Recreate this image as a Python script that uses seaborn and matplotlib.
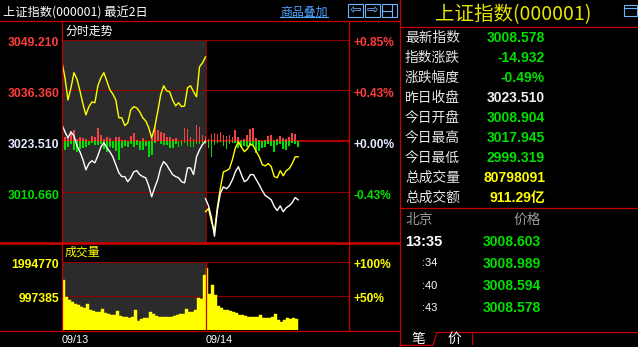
import matplotlib
matplotlib.use("Agg")
import matplotlib.pyplot as plt
import matplotlib.transforms as mtransforms
from matplotlib.patches import Rectangle
import pandas as pd
import seaborn as sns

# ---------------- data ----------------
prev_close = 3023.51
price_ticks = [3049.21, 3036.36, 3023.51, 3010.66]
price_tick_labels = ["3049.210", "3036.360", "3023.510", "3010.660"]
pct_tick_labels = ["+0.85%", "+0.43%", "+0.00%", "-0.43%"]
vol_ticks = [1994770, 997385]
vol_tick_labels = ["1994770", "997385"]
vol_pct_labels = ["+100%", "+50%"]
date_labels = ["09/13", "09/14"]
date_minutes = [0, 240]

day1_min = list(range(0, 241, 5))
day2_min = list(range(240, 396, 5))

white1 = [3027.6, 3025.8, 3024.3, 3025.8, 3024.8, 3022.3, 3020.8, 3018.8, 3016.2, 3017.8,
          3018.5, 3018.0, 3019.8, 3022.0, 3023.1, 3021.8, 3020.8, 3019.5, 3017.5, 3015.5,
          3014.5, 3014.5, 3013.2, 3014.2, 3015.7, 3016.0, 3015.0, 3014.5, 3014.2, 3012.2,
          3009.4, 3011.7, 3013.7, 3016.7, 3018.3, 3017.5, 3016.2, 3015.0, 3014.5, 3014.2,
          3013.2, 3012.9, 3016.7, 3016.7, 3015.0, 3019.5, 3021.3, 3022.6, 3023.5]
yellow1 = [3043.5, 3039.5, 3033.9, 3037.0, 3040.8, 3039.2, 3036.2, 3032.9, 3030.1, 3032.2,
           3033.4, 3033.2, 3037.5, 3039.5, 3040.8, 3038.7, 3036.5, 3035.4, 3033.9, 3029.4,
           3029.4, 3027.4, 3028.1, 3031.4, 3032.2, 3031.9, 3030.9, 3029.4, 3028.6, 3026.9,
           3024.3, 3026.9, 3030.9, 3035.2, 3037.5, 3036.2, 3036.0, 3033.9, 3032.4, 3033.2,
           3032.2, 3032.4, 3037.0, 3037.5, 3036.0, 3034.7, 3042.3, 3043.3, 3044.8]
white2 = [3008.9, 3007.1, 3004.1, 2999.4, 3006.1, 3010.4, 3011.9, 3011.4, 3012.2, 3013.7,
          3015.7, 3017.0, 3015.0, 3013.2, 3013.7, 3015.0, 3015.0, 3013.7, 3012.4, 3010.9,
          3009.7, 3009.2, 3008.6, 3006.9, 3005.9, 3007.1, 3005.6, 3006.6, 3007.1, 3007.9,
          3009.2, 3008.6]
yellow2 = [3005.6, 3006.4, 3003.1, 3000.6, 3006.9, 3011.7, 3015.7, 3016.0, 3016.5, 3018.8,
           3021.8, 3023.3, 3022.0, 3020.8, 3021.5, 3022.8, 3022.3, 3020.8, 3019.5, 3017.5,
           3017.2, 3017.8, 3017.0, 3014.5, 3014.2, 3016.0, 3014.7, 3016.0, 3016.5, 3017.8,
           3019.5, 3019.5]

# buy/sell force bars (index points relative to previous close)
up1 = [0.8, 1.0, 1.0, 2.5, 2.8, 0.5, 1.0, 0.8, 0.5, 0.0, 1.3, 1.0, 3.3, 1.5, 0.5, 1.0, 0.8,
       0.0, 1.0, 1.0, 0.3, 0.3, 0.0, 1.3, 2.0, 0.3, 0.0, 0.8, 0.0, 0.0, 0.8, 3.5, 2.8, 2.3,
       2.0, 1.0, 1.0, 0.5, 0.8, 0.0, 0.3, 3.3, 3.0, 1.0, 0.5, 4.0, 3.5, 1.5, 0.8]
down1 = [-1.3, -2.3, -1.5, -0.8, -2.3, -2.8, -2.0, -1.8, -1.5, -1.0, -0.5, -1.0, -1.0, -0.8,
         -2.0, -2.8, -1.5, -1.8, -2.5, -4.8, -1.8, -1.3, -1.5, -0.8, -1.5, -1.0, -2.3, -2.3,
         -1.3, -4.0, -3.5, -0.5, 0.0, -0.8, -1.0, -1.0, -1.8, -1.8, -0.8, -1.5, -1.3, -0.5,
         -1.3, -1.5, -1.5, -0.8, -0.8, -0.5, -0.8]
up2 = [1.3, 0.5, 1.8, 2.0, 1.8, 2.3, 1.5, 1.3, 1.5, 1.0, 2.8, 1.0, 0.3, 0.5, 1.5, 3.0, 3.3,
       0.8, 0.3, 0.0, 0.3, 1.3, 1.5, 0.3, 0.5, 1.3, 0.8, 0.5, 1.0, 2.0, 1.8, 0.0]
down2 = [-0.8, -1.8, -4.0, -1.0, -0.5, -0.3, -1.3, -2.0, -0.8, -0.5, -0.5, -1.8, -1.5, -1.3,
         -1.5, -1.3, -1.0, -3.0, -2.5, -1.8, -1.5, -0.8, -1.3, -2.8, -1.0, -0.8, -2.0, -2.3,
         -1.3, -0.5, -0.8, -1.5]

vol_min = [2.5 + 5 * k for k in range(48)] + [242.5 + 5 * k for k in range(31)]
volume = [1460000, 964000, 876000, 818000, 759000, 730000, 672000, 643000, 759000, 584000,
          555000, 526000, 526000, 613000, 497000, 467000, 438000, 438000, 555000, 409000,
          380000, 380000, 351000, 380000, 584000, 263000, 321000, 351000, 351000, 526000,
          467000, 409000, 380000, 380000, 380000, 380000, 380000, 409000, 438000, 467000,
          467000, 613000, 526000, 526000, 584000, 935000, 905000, 1606000,
          1811000, 1051000, 1314000, 1022000, 701000, 643000, 584000, 584000, 555000, 526000,
          497000, 438000, 438000, 409000, 380000, 380000, 380000, 380000, 438000, 350000,
          350000, 350000, 380000, 467000, 292000, 234000, 292000, 350000, 321000, 350000,
          321000]

info_labels = ["最新指数", "指数涨跌", "涨跌幅度", "昨日收盘", "今日开盘", "今日最高",
               "今日最低", "总成交量", "总成交额"]
info_values = ["3008.578", "-14.932", "-0.49%", "3023.510", "3008.904", "3017.945",
               "2999.319", "80798091", "911.29亿"]
trade_times = ["13:35", ":34", ":40", ":43"]
trade_prices = ["3008.603", "3008.989", "3008.594", "3008.578"]

# ---------------- style ----------------
W, H = 638, 347
RED = "#ff3c3c"
GREEN = "#00e000"
YEL = "#ffff00"
FRAME = "#c80000"
GRID = "#8c0000"
GRAY = "#2b2b2b"
CJK = ["Noto Sans CJK SC", "DejaVu Sans"]
NUM = ["Liberation Sans", "Noto Sans CJK SC", "DejaVu Sans"]
info_colors = [GREEN, GREEN, GREEN, "#f0f0f0", GREEN, GREEN, GREEN, YEL, YEL]


def rect(x0, y0, x1, y1):
    return [x0 / W, 1 - y1 / H, (x1 - x0) / W, (y1 - y0) / H]


fig = plt.figure(figsize=(W / 100, H / 100), dpi=100, facecolor="black")

# ---------------- price panel ----------------
axp = fig.add_axes(rect(62, 39.5, 349, 242.5))
axp.set_facecolor("black")
axp.axvspan(0, 240, color=GRAY, zorder=0, lw=0)
for t in price_ticks:
    if t == prev_close:
        axp.axhline(t, color="#a80000", lw=1.6, zorder=1)
    else:
        axp.axhline(t, color=GRID, lw=0.8, zorder=1, clip_on=False)
axp.axvline(240, color=GRID, lw=0.8, zorder=1)

for xs, ys, c in [(day1_min, up1, "#f04444"), (day1_min, down1, "#00e000"),
                  (day2_min, up2, "#f04444"), (day2_min, down2, "#00e000")]:
    sns.barplot(x=xs, y=ys, native_scale=True, orient="x", color=c, saturation=1,
                width=0.6, errorbar=None, bottom=prev_close, linewidth=0,
                zorder=2, ax=axp)

for xs, ys, c in [(day1_min, yellow1, YEL), (day1_min, white1, "white"),
                  (day2_min, yellow2, YEL), (day2_min, white2, "white")]:
    sns.lineplot(x=xs, y=ys, color=c, linewidth=1.0, zorder=3, ax=axp)

axp.set_xlim(0, 480)
axp.set_ylim(2997.81, 3049.21)
axp.set_xticks([])
axp.set_xlabel("")
axp.set_ylabel("")
axp.set_yticks(price_ticks)
axp.set_yticklabels(price_tick_labels, fontsize=8.8, fontweight="bold", family=NUM)
axp.tick_params(axis="y", length=0, pad=2)
for s in axp.spines.values():
    s.set_visible(False)

axr = axp.twinx()
axr.set_ylim(axp.get_ylim())
axr.set_yticks(price_ticks)
axr.set_yticklabels(pct_tick_labels, fontsize=8.6, fontweight="bold", family=NUM)
axr.tick_params(axis="y", length=0, pad=3)
for s in axr.spines.values():
    s.set_visible(False)

label_cols = [RED, RED, "#e2eaff", GREEN]
off = mtransforms.ScaledTranslation(0, -0.025, fig.dpi_scale_trans)
for ax in (axp, axr):
    for lab, col in zip(ax.get_yticklabels(), label_cols):
        lab.set_color(col)
        lab.set_transform(lab.get_transform() + off)

# ---------------- volume panel ----------------
axv = fig.add_axes(rect(62, 261.7, 349, 330))
axv.set_facecolor("black")
axv.axvspan(0, 240, color=GRAY, zorder=0, lw=0)
sns.barplot(x=vol_min, y=volume, native_scale=True, orient="x", color=YEL, saturation=1,
            width=1.0, errorbar=None, linewidth=0.3, edgecolor=YEL, zorder=2, ax=axv)
for t in vol_ticks:
    axv.axhline(t, color=GRID, lw=0.8, zorder=1, clip_on=False)
axv.axvline(240, color="#c00000", lw=0.9, zorder=3)
axv.set_xlim(0, 480)
axv.set_ylim(0, 1994770)
axv.set_xlabel("")
axv.set_ylabel("")
axv.set_yticks(vol_ticks)
axv.set_yticklabels(vol_tick_labels, fontsize=8.8, fontweight="bold", family=NUM, color=YEL)
axv.set_xticks(date_minutes)
axv.set_xticklabels(date_labels, fontsize=7.8, family=NUM, color="white", ha="left")
axv.tick_params(axis="both", length=0)
axv.tick_params(axis="y", pad=2)
axv.tick_params(axis="x", pad=3.5)
for s in axv.spines.values():
    s.set_visible(False)

axv2 = axv.twinx()
axv2.set_ylim(axv.get_ylim())
axv2.set_yticks(vol_ticks)
axv2.set_yticklabels(vol_pct_labels, fontsize=8.6, fontweight="bold", family=NUM, color=YEL)
axv2.tick_params(axis="y", length=0, pad=3)
for s in axv2.spines.values():
    s.set_visible(False)
off2 = mtransforms.ScaledTranslation(0, -0.02, fig.dpi_scale_trans)
for ax in (axv, axv2):
    for lab in ax.get_yticklabels():
        lab.set_transform(lab.get_transform() + off2)

# ---------------- overlay: frames and texts ----------------
ov = fig.add_axes([0, 0, 1, 1], facecolor="none")
ov.set_xlim(0, W)
ov.set_ylim(H, 0)
ov.axis("off")
ov.set_zorder(10)

lw1 = 0.9
ov.plot([0, 399], [20.5, 20.5], color=FRAME, lw=lw1)
ov.plot([62, 62], [20.5, 330.5], color=FRAME, lw=lw1)
ov.plot([349, 349], [20.5, 330.5], color=FRAME, lw=lw1)
ov.plot([0, 399], [242.8, 242.8], color="#d00000", lw=1.8)
ov.plot([0, 399], [330.5, 330.5], color=FRAME, lw=lw1)
ov.plot([399.5, 399.5], [0, H], color=FRAME, lw=lw1)
ov.plot([400, W], [26.8, 26.8], color=FRAME, lw=lw1)
ov.plot([400, W], [208.3, 208.3], color=FRAME, lw=lw1)
ov.plot([400, 433, 437, W], [345.3, 345.3, 332.5, 332.5], color=FRAME, lw=lw1)
ov.plot([472, 472], [333, 344], color=FRAME, lw=lw1)

# title bar
ov.text(3, 12.5, "上证指数(000001) 最近2日", color="white", fontsize=8.8, va="center",
        family=CJK)
ov.text(280, 12, "商品叠加", color="#4aa6ff", fontsize=8.6, va="center", family=CJK)
ov.plot([280, 328], [17.3, 17.3], color="#4aa6ff", lw=0.8)
ICON = "#6ab4ff"
for x0, sym in [(348, "⇦"), (365, "⇨")]:
    ov.add_patch(Rectangle((x0, 4), 15, 13, fill=False, ec=ICON, lw=0.8))
    ov.text(x0 + 7.5, 10.5, sym, ha="center", va="center", color=ICON, fontsize=10,
            family="DejaVu Sans")
ov.add_patch(Rectangle((382, 4), 15, 13, fill=False, ec=ICON, lw=0.8))
ov.plot([391.5, 391.5], [4, 17], color=ICON, lw=0.8)
ov.plot([382, 391.5], [10.5, 10.5], color=ICON, lw=0.8)

ov.text(65, 31, "分时走势", color="white", fontsize=8.6, va="center", family=CJK)
ov.text(65, 252.5, "成交量", color=YEL, fontsize=8.6, va="center", family=CJK)

# right info panel
ov.text(513, 15, "上证指数(000001)", color="#e6e600", fontsize=14, ha="center",
        va="center", family=CJK)
ov.add_patch(Rectangle((624, 5), 13, 11, fill=False, ec=ICON, lw=0.8))
ov.plot([624, 637], [8, 8], color=ICON, lw=0.8)

for i, (lab, val, col) in enumerate(zip(info_labels, info_values, info_colors)):
    y = 38.3 + 20 * i
    ov.text(405, y, lab, color="#e6e6e6", fontsize=9.9, va="center", family=CJK)
    ov.text(545, y, val, color=col, fontsize=10, fontweight="bold", ha="right",
            va="center", family=NUM)

ov.text(405, 220, "北京", color="#9a9a9a", fontsize=9.9, va="center", family=CJK)
ov.text(541, 220, "价格", color="#9a9a9a", fontsize=9.9, ha="right", va="center",
        family=CJK)
row_y = [242, 263.5, 286, 308.3]
for i, (tt, pp) in enumerate(zip(trade_times, trade_prices)):
    if i == 0:
        ov.text(405, row_y[i], tt, color="white", fontsize=10.5, fontweight="bold",
                va="center", family=NUM)
    else:
        ov.text(422, row_y[i], tt, color="white", fontsize=8, va="center", family=NUM)
    ov.text(541, row_y[i], pp, color=GREEN, fontsize=10, fontweight="bold", ha="right",
            va="center", family=NUM)

ov.text(418, 338.5, "笔", color="white", fontsize=9.9, ha="center", va="center", family=CJK)
ov.text(454, 338.5, "价", color="white", fontsize=9.9, ha="center", va="center", family=CJK)

fig.savefig("out.png", dpi=100, facecolor="black")
